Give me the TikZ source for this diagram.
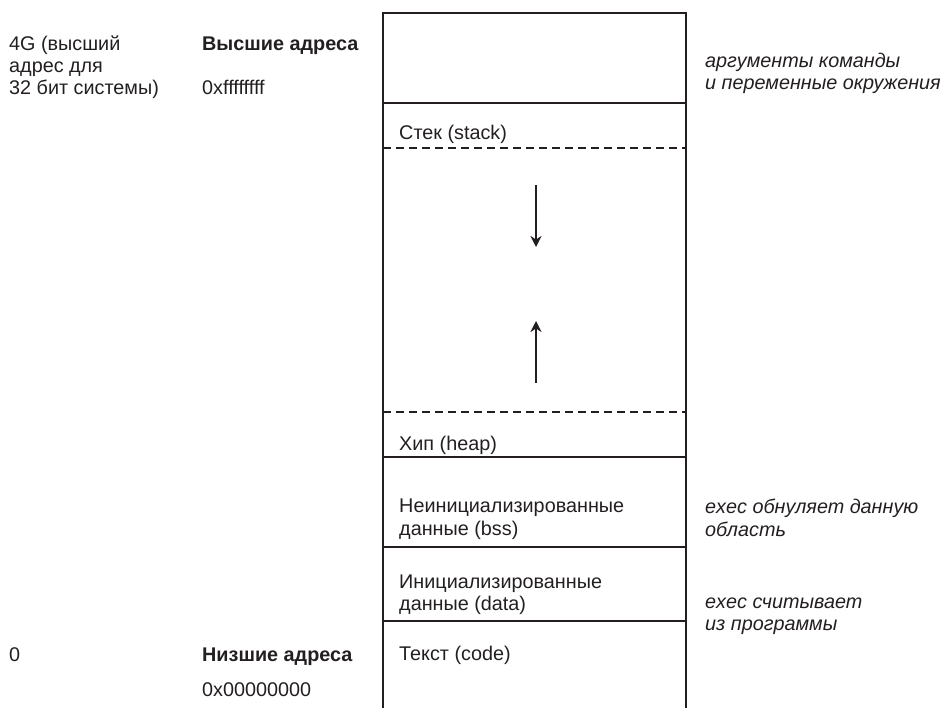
\documentclass[tikz,border=0pt]{standalone}
\usepackage{fontspec}
\setmainfont{Liberation Sans}
\usetikzlibrary{arrows.meta}
\definecolor{ink}{HTML}{231F20}
\begin{document}
\begin{tikzpicture}[x=1pt,y=-1pt,
  lbl/.style={anchor=base west,inner sep=0pt,text=ink,font=\fontsize{19.8}{22}\selectfont},
  bl/.style={lbl,font=\fontsize{19.8}{22}\selectfont\bfseries},
  il/.style={lbl,font=\fontsize{19.8}{22}\selectfont\itshape},
  wall/.style={draw=ink,line width=2.8pt},
  divider/.style={draw=ink,line width=2.6pt},
  dashdiv/.style={draw=ink,line width=2.4pt,dash pattern=on 8pt off 5pt},
  growarrow/.style={draw=ink,line width=2.4pt,-{Stealth[length=11pt,width=11pt,inset=3.5pt]}}]
\useasboundingbox (0,0) rectangle (944,708);

% memory column
\draw[wall] (383,712) -- (383,13) -- (686,13) -- (686,712);
\draw[divider] (383,103) -- (686,103);
\draw[dashdiv] (383,148) -- (686,148);
\draw[dashdiv] (383,412) -- (686,412);
\draw[divider] (383,457) -- (686,457);
\draw[divider] (383,547) -- (686,547);
\draw[divider] (383,621) -- (686,621);

% growth arrows
\coordinate (sdA) at (536,185);
\coordinate (sdB) at (536,247);
\coordinate (huA) at (536,383);
\coordinate (huB) at (536,321);
\draw[growarrow] (sdA) -- (sdB);
\draw[growarrow] (huA) -- (huB);

% left column
\node[lbl] (g1) at (9,51) {4G (высший};
\node[lbl] (g2) at (9,73) {адрес для};
\node[lbl] (g3) at (9,95) {32 бит системы)};
\node[bl] (hi) at (202,51) {Высшие адреса};
\node[lbl] (hix) at (202,95) {0xffffffff};
\node[lbl] (z0) at (9,661) {0};
\node[bl] (lo) at (202,661) {Низшие адреса};
\node[lbl] (lox) at (202,696) {0x00000000};

% segment labels
\node[lbl] (stk) at (399,140) {Стек (stack)};
\node[lbl] (hp) at (399,450) {Хип (heap)};
\node[lbl] (bss1) at (399,512) {Неинициализированные};
\node[lbl] (bss2) at (399,535) {данные (bss)};
\node[lbl] (dat1) at (399,588) {Инициализированные};
\node[lbl] (dat2) at (399,610) {данные (data)};
\node[lbl] (txt) at (399,660) {Текст (code)};

% right notes
\node[il] (ar1) at (705,68) {аргументы команды};
\node[il] (ar2) at (705,90) {и переменные окружения};
\node[il] (bz1) at (705,513) {exec обнуляет данную};
\node[il] (bz2) at (705,536) {область};
\node[il] (rd1) at (705,608) {exec считывает};
\node[il] (rd2) at (705,630) {из программы};
\end{tikzpicture}
\end{document}
